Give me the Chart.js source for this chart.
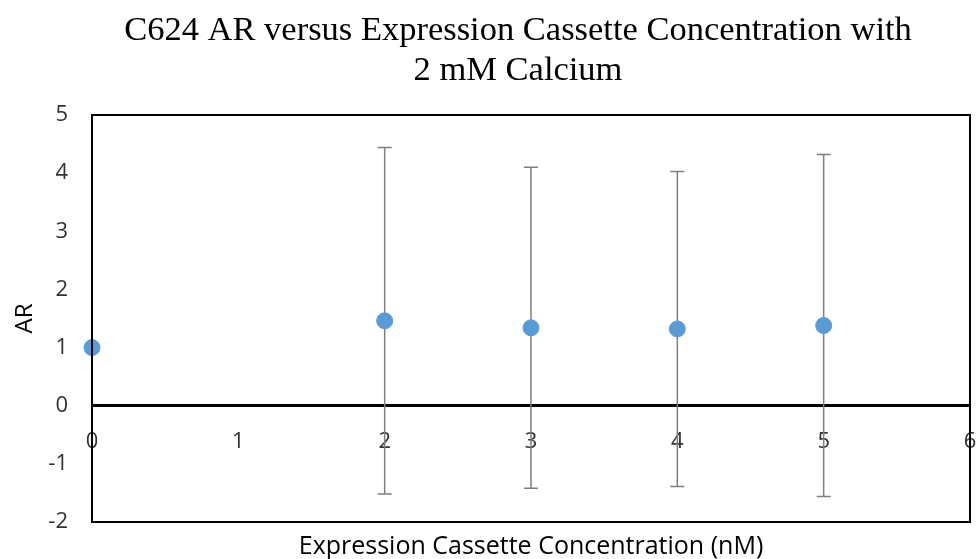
<!DOCTYPE html>
<html>
<head>
<meta charset="utf-8">
<script src="https://cdn.jsdelivr.net/npm/chart.js@4/dist/chart.umd.min.js"></script>
<style>
  html, body { margin: 0; padding: 0; background: #fff; }
  #wrap { width: 976px; height: 559px; position: relative; }
</style>
</head>
<body>
<div id="wrap"><canvas id="c"></canvas></div>
<script>
// Expression cassette concentration (nM) and measured AR with its error
const concentrations = [0, 2, 3, 4, 5];
const arValues = [1.00, 1.46, 1.34, 1.32, 1.38];
const arErrors = [0, 2.98, 2.76, 2.71, 2.94];

const titleLines = ['C624 AR versus Expression Cassette Concentration with', '2 mM Calcium'];
const xTitle = 'Expression Cassette Concentration (nM)';
const yTitle = 'AR';

const points = concentrations.map((x, i) => ({ x: x, y: arValues[i], err: arErrors[i] }));

// Two-line serif heading above the plot
const heading = {
  id: 'heading',
  afterDraw(chart) {
    const { ctx } = chart;
    ctx.save();
    ctx.fillStyle = '#000';
    ctx.font = '34.5px "Liberation Serif", "Times New Roman", serif';
    ctx.textAlign = 'center';
    ctx.textBaseline = 'middle';
    ctx.fillText(titleLines[0], 518, 31);
    ctx.fillText(titleLines[1], 518, 71);
    ctx.restore();
  }
};

// Vertical error bars with short caps, drawn under the markers
const errorBars = {
  id: 'errorBars',
  beforeDatasetsDraw(chart) {
    const { ctx, scales } = chart;
    const xs = scales.x, ys = scales.y;
    ctx.save();
    ctx.strokeStyle = '#7f7f7f';
    ctx.lineWidth = 1.5;
    points.forEach(p => {
      if (!p.err) return;
      const px = xs.getPixelForValue(p.x);
      const top = ys.getPixelForValue(p.y + p.err);
      const bot = ys.getPixelForValue(p.y - p.err);
      ctx.beginPath();
      ctx.moveTo(px, top); ctx.lineTo(px, bot);
      ctx.moveTo(px - 7, top); ctx.lineTo(px + 7, top);
      ctx.moveTo(px - 7, bot); ctx.lineTo(px + 7, bot);
      ctx.stroke();
    });
    ctx.restore();
  }
};

// Black frame round the plot area
const frame = {
  id: 'frame',
  afterDatasetsDraw(chart) {
    const { ctx, chartArea: a } = chart;
    ctx.save();
    ctx.strokeStyle = '#000';
    ctx.lineWidth = 2;
    ctx.strokeRect(a.left, a.top, a.right - a.left, a.bottom - a.top);
    ctx.restore();
  }
};

const sans = '"Open Sans", Lato, sans-serif';
const tickFont = { family: sans, size: 22 };

new Chart(document.getElementById('c'), {
  type: 'scatter',
  data: {
    datasets: [{
      data: points,
      backgroundColor: '#5b9bd5',
      borderColor: '#5b9bd5',
      pointRadius: 8,
      pointHoverRadius: 8,
      clip: false
    }]
  },
  options: {
    responsive: true,
    maintainAspectRatio: false,
    animation: false,
    events: [],
    layout: { autoPadding: false, padding: { top: 115, right: 6, bottom: 0, left: 0 } },
    plugins: {
      legend: { display: false },
      tooltip: { enabled: false },
      title: { display: false }
    },
    scales: {
      x: {
        type: 'linear',
        min: 0, max: 6,
        position: 'bottom',
        grid: { display: false, drawTicks: false },
        border: { display: false },
        ticks: { display: false },
        title: {
          display: true,
          text: xTitle,
          color: '#000',
          font: { family: sans, size: 25, lineHeight: 1 },
          padding: { top: 0, bottom: 0 }
        },
        afterFit(s) { s.height = 37; s.paddingLeft = 0; s.paddingRight = 0; }
      },
      xZero: {
        type: 'linear',
        axis: 'x',
        min: 0, max: 6,
        position: { y: 0 },
        grid: { display: false, drawTicks: false },
        border: { display: true, color: '#000', width: 3 },
        ticks: { stepSize: 1, color: '#333', font: tickFont, padding: 23, maxRotation: 0, autoSkip: false },
        afterFit(s) { s.paddingLeft = 0; s.paddingRight = 0; }
      },
      y: {
        type: 'linear',
        min: -2, max: 5,
        position: 'left',
        grid: { display: false, drawTicks: false },
        border: { display: true, color: '#000', width: 2 },
        ticks: { stepSize: 1, color: '#333', font: tickFont, padding: 24 },
        title: {
          display: true,
          text: yTitle,
          color: '#000',
          font: { family: sans, size: 24, lineHeight: 1 },
          padding: { top: 13, bottom: 0 }
        },
        afterFit(s) { s.width = 92; s.paddingTop = 0; s.paddingBottom = 0; }
      }
    }
  },
  plugins: [errorBars, frame, heading]
});
</script>
</body>
</html>
